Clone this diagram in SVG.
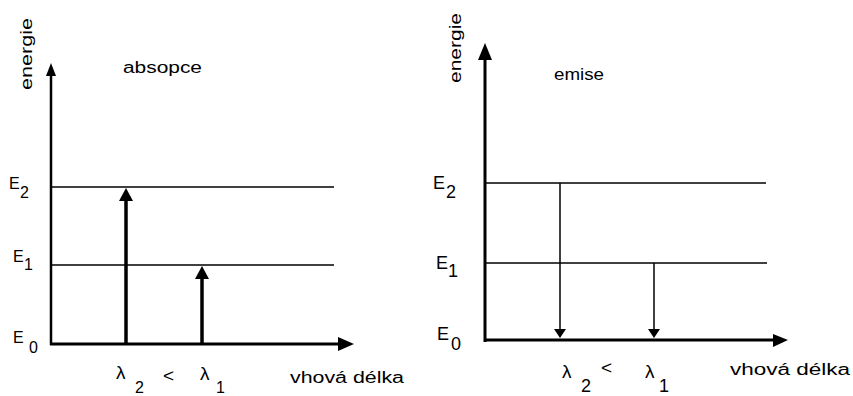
<svg xmlns="http://www.w3.org/2000/svg" width="853" height="396" viewBox="0 0 853 396">
<style>
text{font-family:"Liberation Sans",Arial,sans-serif;fill:#000}
.lbl{font-size:16px}
.e{font-size:16px}
.er{font-size:18px}
.lam{font-size:19px}
.lt{font-size:19px}
.ln{stroke:#000;fill:none}
.lvl{stroke-width:1.5}
.ax{stroke-width:3}
.thick{stroke-width:3.5}
.thin{stroke-width:1.5}
.hd{fill:#000;stroke:none}
</style>
<rect width="853" height="396" fill="#fff"/>
<g id="left-panel">
  <g id="left-axes" class="connectors">
    <line class="ln" x1="51" y1="74" x2="51" y2="345" style="stroke-width:2.5"/>
    <polygon class="hd" points="51,63 46,76 56,76"/>
    <line class="ln ax" x1="50" y1="344" x2="340" y2="344"/>
    <polygon class="hd" points="354,344 338,337 338,351"/>
  </g>
  <g id="left-levels">
    <line class="ln lvl" x1="51" y1="187" x2="334" y2="187"/>
    <line class="ln lvl" x1="51" y1="265" x2="334" y2="265"/>
  </g>
  <g id="left-transitions">
    <line class="ln thick" x1="126" y1="344" x2="126" y2="197"/>
    <polygon class="hd" points="126,188 119,201 133,201"/>
    <line class="ln thick" x1="202" y1="344" x2="202" y2="275"/>
    <polygon class="hd" points="202,266 195,279 209,279"/>
  </g>
  <g id="left-labels">
    <text class="lbl" transform="translate(32,90) rotate(-90)" textLength="72" lengthAdjust="spacingAndGlyphs">energie</text>
    <text class="lbl" x="123" y="73" textLength="79" lengthAdjust="spacingAndGlyphs">absopce</text>
    <text class="e" x="9" y="189">E</text><text class="e" x="20" y="198">2</text>
    <text class="e" x="13" y="262">E</text><text class="e" x="24" y="270">1</text>
    <text class="e" x="13" y="343">E</text><text class="e" x="29" y="353">0</text>
    <text class="lam" x="116" y="379">λ</text><text class="e" x="135" y="393">2</text>
    <text class="lt" x="163" y="382">&lt;</text>
    <text class="lam" x="200" y="380">λ</text><text class="e" x="216" y="393">1</text>
    <text class="lbl" x="290" y="383" textLength="114" lengthAdjust="spacingAndGlyphs">vhová délka</text>
  </g>
</g>
<g id="right-panel">
  <g id="right-axes" class="connectors">
    <line class="ln ax" x1="485" y1="56" x2="485" y2="342"/>
    <polygon class="hd" points="485,43 478,60 492,60"/>
    <line class="ln ax" x1="484" y1="340" x2="775" y2="340"/>
    <polygon class="hd" points="788,340 773,334 773,347"/>
  </g>
  <g id="right-levels">
    <line class="ln lvl" x1="485" y1="183" x2="766" y2="183"/>
    <line class="ln lvl" x1="485" y1="263" x2="767" y2="263"/>
  </g>
  <g id="right-transitions">
    <line class="ln thin" x1="560" y1="183" x2="560" y2="330"/>
    <polygon class="hd" points="560,338 554,329 566,329"/>
    <line class="ln thin" x1="654" y1="263" x2="654" y2="330"/>
    <polygon class="hd" points="654,338 648,329 660,329"/>
  </g>
  <g id="right-labels">
    <text class="lbl" transform="translate(461,83) rotate(-90)" textLength="70" lengthAdjust="spacingAndGlyphs">energie</text>
    <text class="lbl" x="554" y="80" textLength="50" lengthAdjust="spacingAndGlyphs">emise</text>
    <text class="er" x="433" y="189">E</text><text class="er" x="446" y="198">2</text>
    <text class="er" x="436" y="269">E</text><text class="er" x="448" y="277">1</text>
    <text class="er" x="437" y="340">E</text><text class="er" x="451" y="350">0</text>
    <text class="lam" x="562" y="378">λ</text><text class="er" x="581" y="392">2</text>
    <text class="lt" x="601" y="374">&lt;</text>
    <text class="lam" x="645" y="378">λ</text><text class="er" x="659" y="392">1</text>
    <text class="lbl" x="730" y="375" textLength="120" lengthAdjust="spacingAndGlyphs">vhová délka</text>
  </g>
</g>
</svg>
